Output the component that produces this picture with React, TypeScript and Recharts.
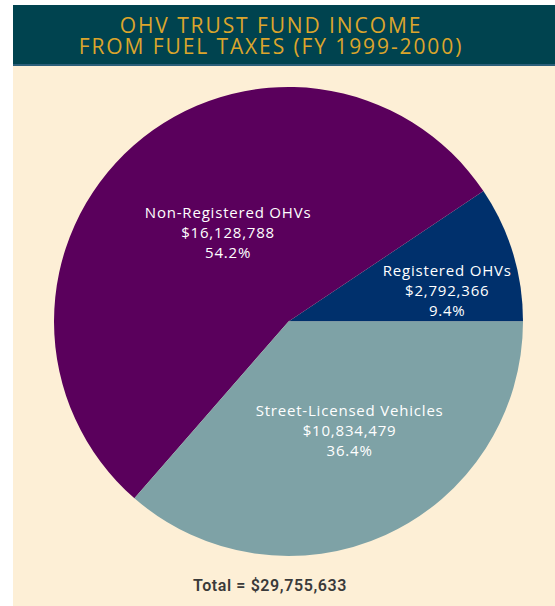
import React from "react";
import { PieChart, Pie, Cell } from "recharts";

// FY 1999-2000 OHV trust fund income, by source
const categories = ["Registered OHVs", "Non-Registered OHVs", "Street-Licensed Vehicles"];
const amounts = [2792366, 16128788, 10834479];
const percentLabels = ["9.4%", "54.2%", "36.4%"];
const titleLines = ["OHV TRUST FUND INCOME", "FROM FUEL TAXES (FY 1999-2000)"];
const totalLabel = "Total = $29,755,633";

const colors = ["#00306c", "#5a005c", "#7ea2a6"];
// where each label sits: fraction of radius, and nudge from the slice mid angle
const labelRadius = [0.69, 0.46, 0.53];
const labelAngleShift = [-5.7, -7.3, 5];

const data = categories.map((name, i) => ({ name, value: amounts[i] }));

const RAD = Math.PI / 180;
const money = (v: number) => "$" + v.toLocaleString("en-US");

const renderLabel = (props: any) => {
  const { cx, cy, midAngle, outerRadius, index } = props;
  const r = outerRadius * labelRadius[index];
  const a = (midAngle + labelAngleShift[index]) * RAD;
  const x = cx + r * Math.cos(-a);
  const y = cy + r * Math.sin(-a);
  return (
    <text
      x={x}
      y={y}
      fill="#ffffff"
      textAnchor="middle"
      dominantBaseline="central"
      fontFamily="'Open Sans', sans-serif"
      fontSize={15}
      letterSpacing={0.8}
    >
      <tspan x={x} dy={-20}>{categories[index]}</tspan>
      <tspan x={x} dy={20}>{money(amounts[index])}</tspan>
      <tspan x={x} dy={20}>{percentLabels[index]}</tspan>
    </text>
  );
};

export default function App() {
  return (
    <div style={{ position: "absolute", left: 0, top: 0, width: 555, height: 606, background: "#ffffff" }}>
      <div
        style={{
          position: "absolute",
          left: 13,
          top: 5,
          width: 542,
          height: 59,
          background: "#00434f",
          borderBottom: "2px solid #2c5f7a",
        }}
      />
      <div
        style={{
          position: "absolute",
          left: 13,
          top: 66,
          width: 542,
          height: 540,
          background: "#fdefd6",
        }}
      />
      <div style={{ position: "absolute", left: 0, top: 0 }}>
        <PieChart width={555} height={606} margin={{ top: 0, right: 0, bottom: 0, left: 0 }}>
          <Pie
            data={data}
            dataKey="value"
            nameKey="name"
            cx={288.5}
            cy={321.5}
            outerRadius={234.5}
            startAngle={0}
            endAngle={360}
            stroke="none"
            label={renderLabel}
            labelLine={false}
            isAnimationActive={false}
          >
            {data.map((d, i) => (
              <Cell key={d.name} fill={colors[i]} />
            ))}
          </Pie>
        </PieChart>
      </div>
      <svg width={555} height={606} style={{ position: "absolute", left: 0, top: 0, pointerEvents: "none" }}>
        {titleLines.map((t, i) => (
          <text
            key={t}
            x={271}
            y={33 + i * 21}
            textAnchor="middle"
            fill="#dca52c"
            fontFamily="'Open Sans', sans-serif"
            fontSize={21}
            letterSpacing={1.9}
          >
            {t}
          </text>
        ))}
        <text
          x={270}
          y={591}
          textAnchor="middle"
          fill="#3a3a3a"
          fontFamily="Roboto, sans-serif"
          fontWeight={600}
          fontSize={16}
          letterSpacing={0.6}
        >
          {totalLabel}
        </text>
      </svg>
    </div>
  );
}
